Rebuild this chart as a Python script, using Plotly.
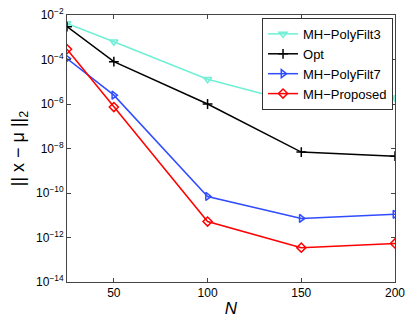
import plotly.graph_objects as go

N = [25, 50, 100, 150, 200]
polyfilt3 = [4.2e-3, 6.3e-4, 1.3e-5, 1.0e-6, 1.9e-6]
opt = [3.0e-3, 8.0e-5, 1.0e-6, 6.9e-9, 4.5e-9]
polyfilt7 = [1.1e-4, 2.5e-6, 7.0e-11, 7.2e-12, 1.1e-11]
proposed = [2.9e-4, 7.3e-7, 5.2e-12, 3.5e-13, 5.4e-13]

ytick_vals = [1e-2, 1e-4, 1e-6, 1e-8, 1e-10, 1e-12, 1e-14]
ytick_text = ["10<sup>−2</sup>", "10<sup>−4</sup>", "10<sup>−6</sup>", "10<sup>−8</sup>",
              "10<sup>−10</sup>", "10<sup>−12</sup>", "10<sup>−14</sup>"]
xtick_vals = [50, 100, 150, 200]

fig = go.Figure()
series = [
    ("MH−PolyFilt3", polyfilt3, "#6FEFD6", "triangle-down-open"),
    ("Opt", opt, "#000000", "cross-thin-open"),
    ("MH−PolyFilt7", polyfilt7, "#2F4CFF", "triangle-right-open"),
    ("MH−Proposed", proposed, "#FF0000", "diamond-open"),
]
for name, vals, col, sym in series:
    fig.add_trace(go.Scatter(
        x=N, y=vals, name=name, mode="lines+markers",
        line=dict(color=col, width=1.5),
        marker=dict(symbol=sym, size=7, color=col, line=dict(color=col, width=1.5)),
    ))

fig.update_layout(
    width=409, height=318,
    margin=dict(l=67, r=14, t=15, b=36),
    paper_bgcolor="white", plot_bgcolor="white",
    font=dict(family="Liberation Sans, Arial, sans-serif", size=12, color="black"),
    showlegend=True,
    legend=dict(x=0.994, y=0.989, xanchor="right", yanchor="top",
                bordercolor="#333", borderwidth=1, bgcolor="white",
                font=dict(size=13), itemwidth=30, tracegroupgap=0),
)
fig.update_xaxes(
    range=[25, 200], tickvals=xtick_vals, ticks="inside", ticklen=4,
    showline=True, linecolor="#444", linewidth=1, mirror="ticks",
    showgrid=False, zeroline=False, automargin=False,
    title=dict(text="<i>N</i>", font=dict(size=17), standoff=3),
)
fig.update_yaxes(
    type="log", range=[-14, -2], tickvals=ytick_vals, ticktext=ytick_text,
    ticks="inside", ticklen=4,
    showline=True, linecolor="#444", linewidth=1, mirror="ticks",
    showgrid=False, zeroline=False, automargin=False,
    title=dict(text="|| x − μ ||<sub>2</sub>", font=dict(size=18), standoff=6),
)

fig.write_html("out.html", config={"displayModeBar": False},
               post_script="document.body.style.margin='0';")
